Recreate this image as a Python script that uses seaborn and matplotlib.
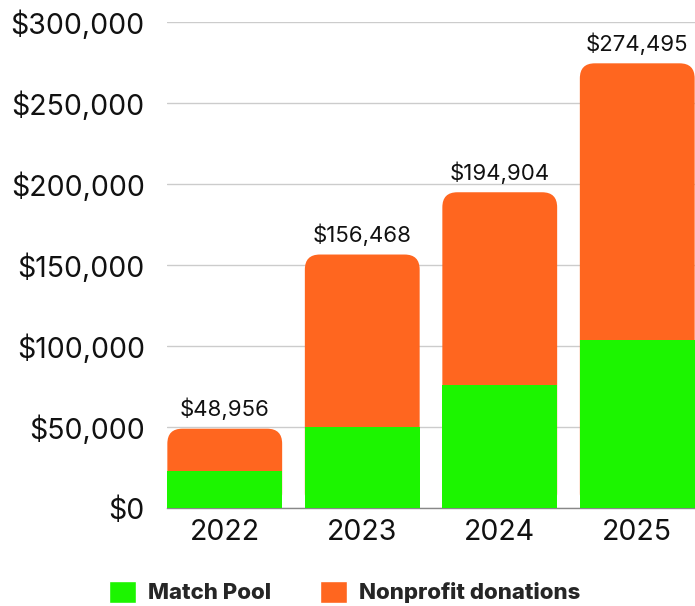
"""Stacked yearly totals: match pool vs nonprofit donations."""

import matplotlib

matplotlib.use("Agg")
import matplotlib.pyplot as plt
import pandas as pd
import seaborn as sns
from matplotlib.patches import FancyBboxPatch, Patch
from matplotlib.ticker import FuncFormatter

YEARS = ["2022", "2023", "2024", "2025"]
TOTALS = [48956, 156468, 194904, 274495]
MATCH_POOL = [23000, 50000, 76000, 104000]
Y_TICKS = [0, 50000, 100000, 150000, 200000, 250000, 300000]

GREEN = "#1cf500"
ORANGE = "#ff661f"
FONT = ["Inter", "DejaVu Sans"]

sns.set_theme(style="white")
plt.rcParams["font.family"] = FONT

df = pd.DataFrame({"year": YEARS, "total": TOTALS, "match": MATCH_POOL})

fig = plt.figure(figsize=(6.95, 6.06), dpi=100)
ax = fig.add_axes([167 / 695, 1 - 508 / 606, 528 / 695, 486 / 606])

bar_w = 0.835
sns.barplot(data=df, x="year", y="total", color=ORANGE, width=bar_w,
            saturation=1, linewidth=0, ax=ax)

# swap the orange bars for rounded boxes (bottom is hidden under the green)
x_units_per_px = (3.42 + 0.42) / 528
y_units_per_px = 300000 / 486
radius_px = 15
for p in list(ax.patches):
    x, y, w, h = p.get_x(), p.get_y(), p.get_width(), p.get_height()
    p.remove()
    r = radius_px * x_units_per_px
    box = FancyBboxPatch(
        (x, y), w, h,
        boxstyle=f"round,pad=0,rounding_size={r}",
        mutation_aspect=y_units_per_px / x_units_per_px,
        facecolor=ORANGE, edgecolor="none", zorder=2,
    )
    ax.add_patch(box)

sns.barplot(data=df, x="year", y="match", color=GREEN, width=bar_w,
            saturation=1, linewidth=0, ax=ax)
for p in ax.patches:
    if p.get_facecolor()[1] > 0.8:
        p.set_zorder(3)

for i, t in enumerate(TOTALS):
    ax.annotate(f"${t:,}", (i, t), xytext=(0, 6), textcoords="offset points",
                ha="center", va="bottom", fontsize=16, color="#111111")

ax.set_xlim(-0.42, 3.42)
ax.set_ylim(0, 300000)
ax.set_yticks(Y_TICKS)
ax.yaxis.set_major_formatter(FuncFormatter(lambda v, _: f"${int(v):,}"))
ax.grid(axis="y", color="#cccccc", linewidth=1)
ax.set_axisbelow(True)
ax.set_xlabel("")
ax.set_ylabel("")
ax.tick_params(axis="y", length=0, pad=16, labelsize=20.5, labelcolor="#111111")
ax.tick_params(axis="x", length=0, pad=8, labelsize=20.5, labelcolor="#111111")
for s in ["top", "right", "left"]:
    ax.spines[s].set_visible(False)
ax.spines["bottom"].set_color("#888888")
ax.spines["bottom"].set_linewidth(1)

handles = [Patch(facecolor=GREEN, label="Match Pool"),
           Patch(facecolor=ORANGE, label="Nonprofit donations")]
leg = fig.legend(handles=handles, loc="center", bbox_to_anchor=(345 / 695, 1 - 592 / 606),
                 ncol=2, frameon=False, handlelength=1.2, handleheight=1.2,
                 handletextpad=0.55, columnspacing=2.2,
                 prop={"family": FONT, "weight": "heavy", "size": 16})

fig.savefig("out.png", dpi=100)
